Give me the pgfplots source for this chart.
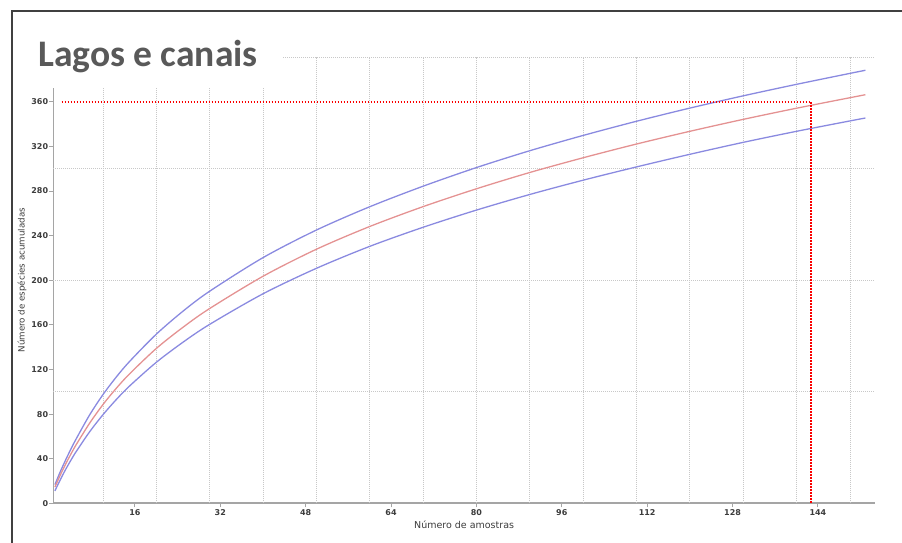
\documentclass[border=0pt]{standalone}
\usepackage{pgfplots}
\pgfplotsset{compat=1.18}
\usepackage{fontspec}
\setmainfont{DejaVu Sans}
\newfontfamily\titlefont{Carlito}
\definecolor{cblue}{RGB}{138,138,224}
\definecolor{cred}{RGB}{228,146,146}
\definecolor{gridc}{RGB}{200,200,200}
\definecolor{axc}{RGB}{165,165,165}
\definecolor{tickc}{RGB}{60,60,60}
\definecolor{titc}{RGB}{89,89,89}
\definecolor{dotred}{RGB}{250,0,0}

\pgfplotstableread{
x upper mid lower
1 16.9 14.7 11.3
2 28.4 25.4 21.2
3 38.9 35.2 30.4
4 48.8 44.3 38.8
5 58.0 52.8 46.6
7.5 79.3 71.9 64.2
10 97.5 88.6 79.5
12.5 113.3 103.2 93.1
15 127.3 116.2 105.3
20 151.7 138.9 126.5
25 172.3 157.9 144.5
30 190.2 174.7 160.5
40 220.3 203.6 187.9
50 245.0 227.8 210.7
60 265.9 248.2 230.4
70 284.3 266.0 247.5
80 301.0 282.0 262.9
90 316.1 296.6 276.9
100 329.8 309.8 289.7
110 342.5 322.1 301.6
120 354.3 333.5 312.9
130 365.3 344.2 323.6
140 375.6 354.2 333.5
150 385.4 363.6 342.8
152.9 388.2 366.3 345.4
}\curves

\begin{document}
\begin{tikzpicture}
\path[use as bounding box] (0pt,0pt) rectangle (902pt,543pt);
\begin{axis}[
  at={(53.3pt,39.5pt)}, anchor=south west, scale only axis,
  width=821.7pt, height=446.4pt,
  xmin=0.7, xmax=154.7, ymin=0, ymax=400,
  axis x line*=bottom, axis y line*=left,
  axis line style={axc,-},
  x axis line style={line width=2pt},
  y axis line style={line width=1.5pt},
  xtick={16,32,...,144}, ytick={0,40,...,360},
  tick align=outside, major tick length=4pt,
  tick style={axc, line width=1pt},
  tick label style={font=\fontsize{8}{9}\selectfont\bfseries, text=tickc},
  /pgf/number format/assume math mode=true,
  xticklabel style={inner sep=1.5pt},
  yticklabel style={inner sep=1pt},
  extra x ticks={10,20,...,150},
  extra x tick labels={,,,,,,,,,,,,,,},
  extra x tick style={grid=major, major tick length=0pt},
  extra y ticks={100,200,300,400},
  extra y tick labels={,,,},
  extra y tick style={grid=major, major tick length=0pt},
  major grid style={gridc, line width=0.8pt, dash pattern=on 1pt off 1pt},
  xlabel={Número de amostras},
  xlabel style={at={(axis description cs:0.5,0)}, anchor=center, yshift=-21.5pt, font=\fontsize{9.5}{10}\selectfont, text=tickc},
  ylabel={Número de espécies acumuladas},
  ylabel style={at={(axis description cs:-0.0381,0.5)}, anchor=center, font=\fontsize{8.7}{9}\selectfont, text=tickc},
]
\addplot[cblue, line width=1.3pt, smooth] table[x=x, y=upper] {\curves};
\addplot[cred, line width=1.3pt, smooth] table[x=x, y=mid] {\curves};
\addplot[cblue, line width=1.3pt, smooth] table[x=x, y=lower] {\curves};
\addplot[dotred, line width=1.8pt, dash pattern=on 1.6pt off 1.4pt] coordinates {(2.25,360) (142.7,360) (142.7,0)};
\end{axis}
\fill[white] (14pt,455pt) rectangle (283pt,530pt);
\node[anchor=base west, inner sep=0pt, font=\titlefont\bfseries\fontsize{37.5}{42}\selectfont, text=titc] at (38pt,476.3pt) {Lagos e canais};
\draw[line width=1.8pt, black!75] (12pt,0pt) -- (12pt,532pt) -- (902pt,532pt);
\end{tikzpicture}
\end{document}
